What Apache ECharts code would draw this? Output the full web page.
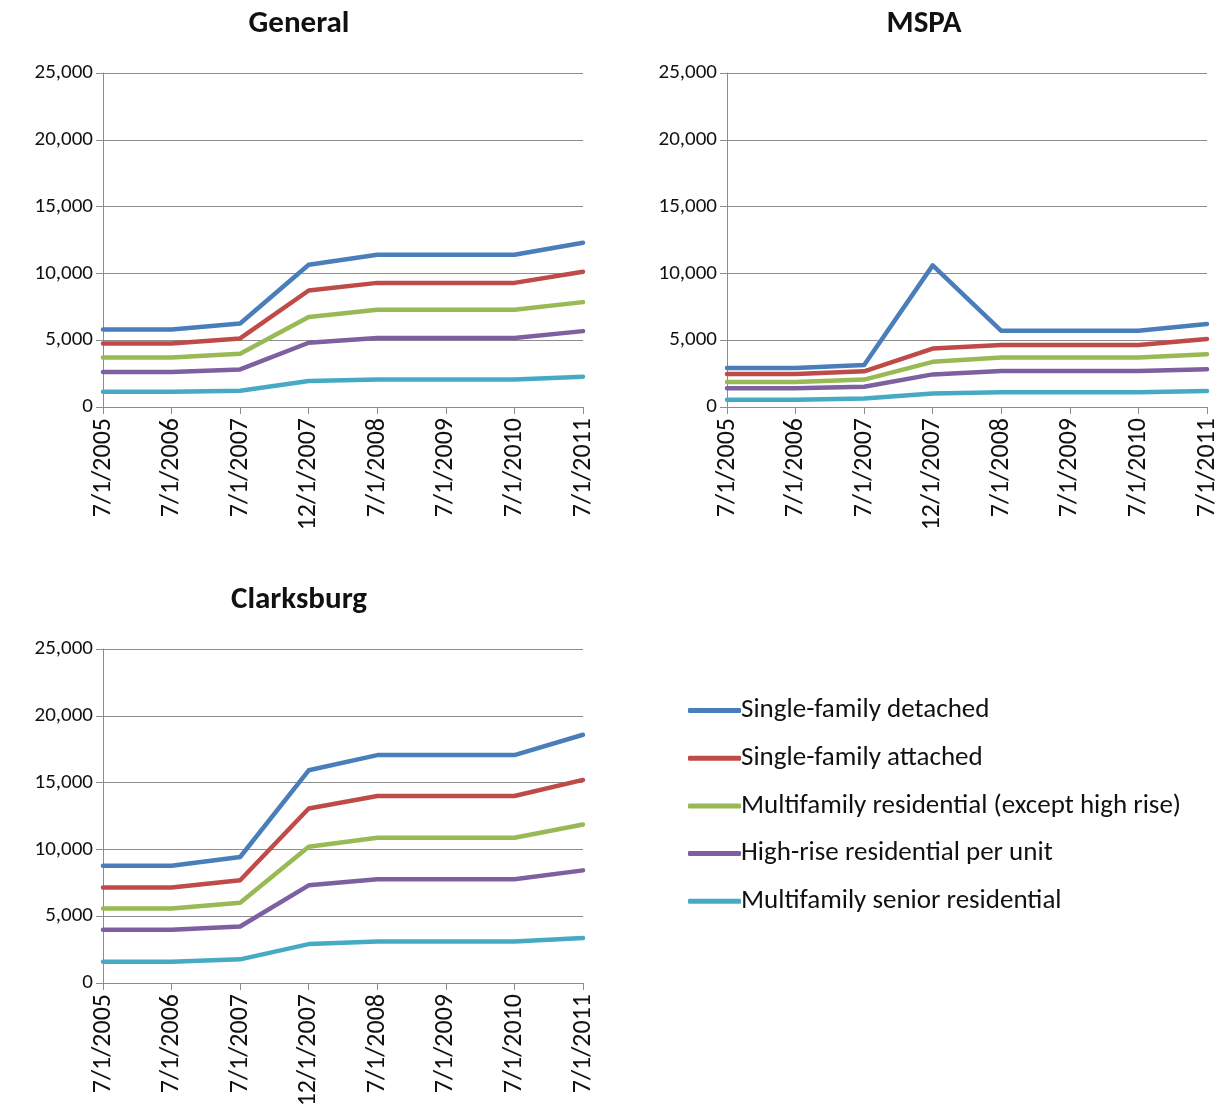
<!DOCTYPE html>
<html>
<head>
<meta charset="utf-8">
<title>Impact tax rates by dwelling type</title>
<script src="https://cdn.jsdelivr.net/npm/echarts@6/dist/echarts.min.js"></script>
<style>
  html, body { margin: 0; padding: 0; background: #ffffff; }
  #chart { width: 1228px; height: 1111px; }
</style>
</head>
<body>
<div id="chart"></div>
<script>
// Effective dates shared by all three panels
const dates = ['7/1/2005', '7/1/2006', '7/1/2007', '12/1/2007', '7/1/2008', '7/1/2009', '7/1/2010', '7/1/2011'];

const seriesNames = [
  'Single-family detached',
  'Single-family attached',
  'Multifamily residential (except high rise)',
  'High-rise residential per unit',
  'Multifamily senior residential'
];

const yTicks = [0, 5000, 10000, 15000, 20000, 25000];

// General
const generalDetached = [5800, 5800, 6250, 10650, 11400, 11400, 11400, 12300];
const generalAttached = [4750, 4750, 5130, 8720, 9290, 9290, 9290, 10130];
const generalMultifamily = [3700, 3700, 3980, 6740, 7280, 7280, 7280, 7850];
const generalHighRise = [2620, 2620, 2810, 4810, 5160, 5160, 5160, 5680];
const generalSenior = [1140, 1140, 1210, 1950, 2050, 2050, 2050, 2270];

// MSPA
const mspaDetached = [2910, 2910, 3140, 10600, 5700, 5700, 5700, 6220];
const mspaAttached = [2470, 2470, 2670, 4370, 4640, 4640, 4640, 5090];
const mspaMultifamily = [1880, 1880, 2050, 3380, 3700, 3700, 3700, 3950];
const mspaHighRise = [1410, 1410, 1510, 2440, 2690, 2690, 2690, 2820];
const mspaSenior = [540, 540, 640, 1010, 1110, 1110, 1110, 1190];

// Clarksburg
const clarksburgDetached = [8780, 8780, 9430, 15920, 17060, 17060, 17060, 18580];
const clarksburgAttached = [7140, 7140, 7690, 13060, 14000, 14000, 14000, 15200];
const clarksburgMultifamily = [5570, 5570, 6000, 10200, 10870, 10870, 10870, 11870];
const clarksburgHighRise = [3980, 3980, 4230, 7310, 7760, 7760, 7760, 8430];
const clarksburgSenior = [1590, 1590, 1770, 2910, 3110, 3110, 3110, 3360];

const panelTitles = ['General', 'MSPA', 'Clarksburg'];
const panelData = [
  [generalDetached, generalAttached, generalMultifamily, generalHighRise, generalSenior],
  [mspaDetached, mspaAttached, mspaMultifamily, mspaHighRise, mspaSenior],
  [clarksburgDetached, clarksburgAttached, clarksburgMultifamily, clarksburgHighRise, clarksburgSenior]
];

const colors = ['#4A7EBB', '#BE4B48', '#98B954', '#7D60A0', '#46AAC5'];
const FONT = 'Carlito, Lato, sans-serif';
const AXIS_GRAY = '#8c8c8c';

const grids = [
  { left: 103, top: 73, width: 480, height: 334 },
  { left: 727, top: 73, width: 480, height: 334 },
  { left: 103, top: 649, width: 480, height: 334 }
];
const titlePos = [
  { left: 294, top: 4 },
  { left: 919, top: 4 },
  { left: 294, top: 580 }
];

const xAxes = grids.map((g, i) => ({
  type: 'category',
  gridIndex: i,
  data: dates,
  boundaryGap: false,
  axisLine: { show: true, lineStyle: { color: AXIS_GRAY, width: 1 } },
  axisTick: { show: true, length: 7, alignWithLabel: true, lineStyle: { color: AXIS_GRAY } },
  axisLabel: {
    rotate: 90, margin: 11, color: '#111', fontFamily: FONT, fontSize: 26,
    interval: 0
  },
  splitLine: { show: false }
}));

const yAxes = grids.map((g, i) => ({
  type: 'value',
  gridIndex: i,
  min: yTicks[0],
  max: yTicks[yTicks.length - 1],
  interval: yTicks[1] - yTicks[0],
  axisLine: { show: true, lineStyle: { color: AXIS_GRAY, width: 1 } },
  axisTick: { show: true, length: 7, lineStyle: { color: AXIS_GRAY } },
  axisLabel: {
    margin: 10, color: '#111', fontFamily: FONT, fontSize: 21,
    formatter: v => v.toLocaleString('en-US')
  },
  splitLine: { show: true, lineStyle: { color: AXIS_GRAY, width: 1 } }
}));

const series = [];
panelData.forEach((rows, p) => {
  rows.forEach((values, k) => {
    series.push({
      type: 'line',
      name: seriesNames[k],
      xAxisIndex: p,
      yAxisIndex: p,
      data: values,
      symbol: 'none',
      z: 10 - k,
      lineStyle: { color: colors[k], width: 4.5, cap: 'round', join: 'round' },
      itemStyle: { color: colors[k] },
      emphasis: { disabled: true }
    });
  });
});

const chart = echarts.init(document.getElementById('chart'), null, { renderer: 'canvas' });
chart.setOption({
  animation: false,
  color: colors,
  title: panelTitles.map((t, i) => ({
    text: t,
    left: titlePos[i].left,
    top: titlePos[i].top,
    textAlign: 'center',
    textStyle: { fontFamily: FONT, fontWeight: 'bold', fontSize: 31, color: '#111' }
  })),
  legend: {
    orient: 'vertical',
    left: 683,
    top: 692,
    data: seriesNames,
    icon: 'roundRect',
    itemWidth: 53,
    itemHeight: 5,
    itemGap: 20.7,
    textStyle: { fontFamily: FONT, fontSize: 27, color: '#111', padding: [0, 0, 0, -5] }
  },
  grid: grids,
  xAxis: xAxes,
  yAxis: yAxes,
  series: series
});
</script>
</body>
</html>
